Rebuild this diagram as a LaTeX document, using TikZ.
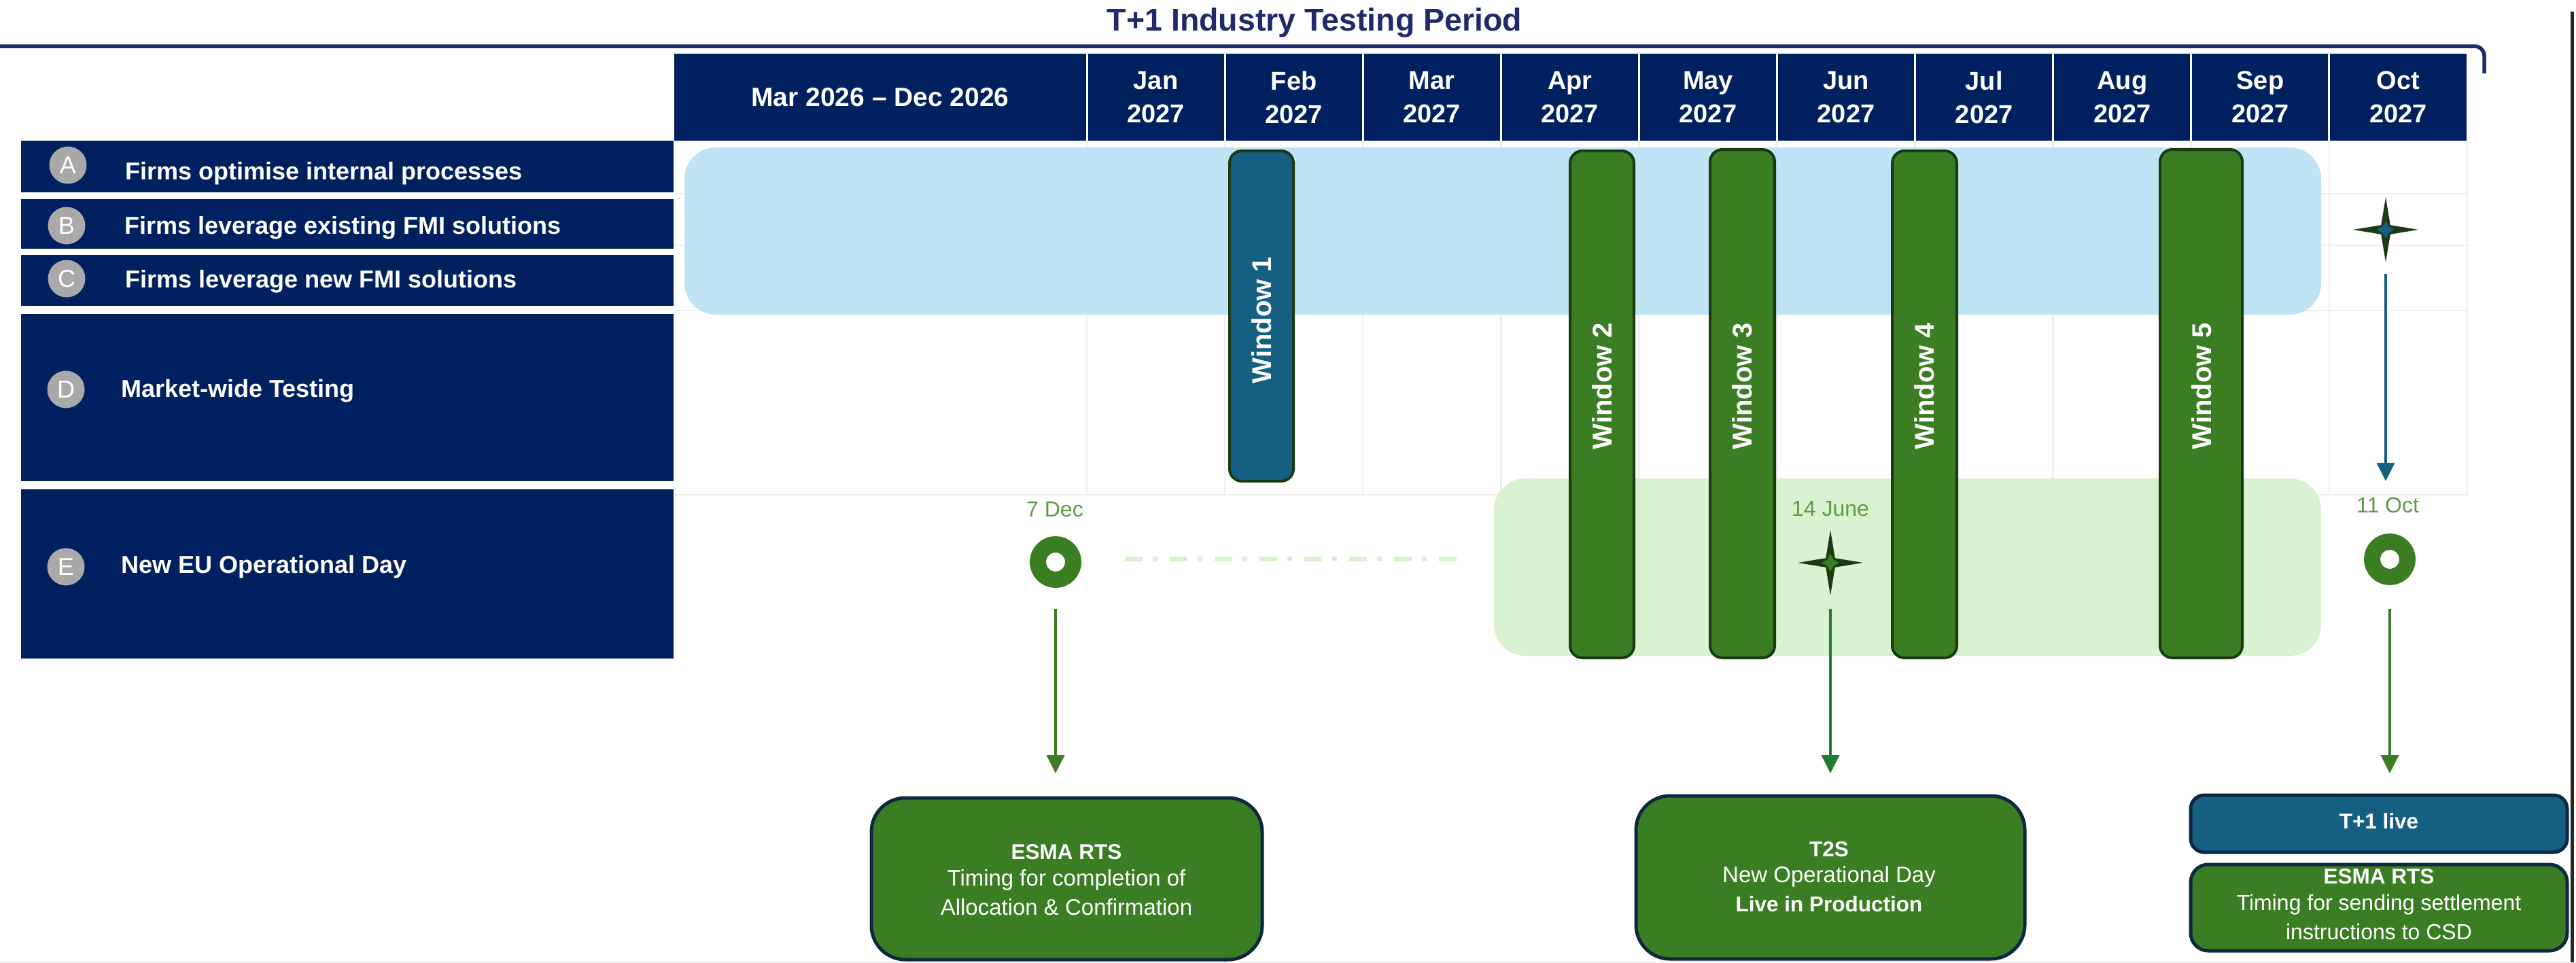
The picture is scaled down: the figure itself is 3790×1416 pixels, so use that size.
\documentclass[tikz,border=0pt]{standalone}
\usepackage{fontspec}
\setmainfont{Liberation Sans}
\usetikzlibrary{arrows.meta,shapes.geometric}
\definecolor{navy}{HTML}{002060}
\definecolor{titlenavy}{HTML}{1F2A6B}
\definecolor{skyband}{HTML}{C0E4F5}
\definecolor{mintband}{HTML}{D9F2D0}
\definecolor{leaf}{HTML}{3B7D23}
\definecolor{june}{HTML}{1E7B34}
\definecolor{teal}{HTML}{156082}
\definecolor{darkleaf}{HTML}{1B3A12}
\definecolor{boxedge}{HTML}{0E2841}
\definecolor{gridgrey}{HTML}{F0F0F0}
\definecolor{badge}{HTML}{A9A9A9}
\definecolor{datetext}{HTML}{5E9A4A}
\newcommand{\fs}[1]{\fontsize{#1}{#1}\selectfont}
\tikzset{
  block/.style={rectangle,anchor=north west,inner sep=0pt,outer sep=0pt},
  navybar/.style={block,fill=navy},
  headcell/.style={block,fill=navy,text=white,align=center,font=\fontsize{38}{49}\selectfont\bfseries},
  rowtext/.style={anchor=west,text=white,inner sep=0pt,font=\fs{36}\bfseries},
  badgedot/.style={circle,fill=badge,text=white,inner sep=0pt,minimum size=55pt,font=\fs{36}},
  band/.style={block,rounded corners=46pt},
  windowbar/.style={block,rounded corners=18pt,fill=leaf,draw=darkleaf,line width=4pt},
  windowtext/.style={rotate=90,text=white,inner sep=0pt,font=\fs{40}\bfseries},
  gridline/.style={gridgrey,line width=2.5pt},
  donut/.style={circle,draw=leaf,line width=24pt,fill=white,minimum size=52pt,inner sep=0pt,outer sep=0pt},
  sparkle/.style={star,star points=4,star point ratio=5,minimum size=96pt,inner sep=0pt,outer sep=0pt,fill=darkleaf},
  sparklecore/.style={star,star points=4,star point ratio=2,minimum size=26pt,inner sep=0pt,outer sep=0pt},
  datelabel/.style={text=datetext,inner sep=0pt,font=\fs{32}},
  flow/.style={line width=4pt,-{Triangle[length=27pt,width=26pt]}},
  notebox/.style={block,draw=boxedge,line width=5pt,text=white,align=center},
  notetext/.style={text=white,inner sep=0pt,font=\fs{33}},
  notehead/.style={text=white,inner sep=0pt,font=\fs{31.5}\bfseries}
}
\begin{document}
\begin{tikzpicture}[x=1pt,y=-1pt]
\useasboundingbox (0,0) rectangle (3790,1416);
% grid
\foreach \i in {0,...,10} {\pgfmathsetmacro{\gx}{1599+203.1*\i}
  \draw[gridline] (\gx,207) -- (\gx,728);}
\foreach \gy in {285,361,457,728} {\draw[gridline] (992,\gy) -- (3632,\gy);}
\draw[gridline] (0,1415) -- (3782,1415);
% bracket and title
\coordinate (bracketL) at (0,68);
\coordinate (bracketC) at (3655,68);
\coordinate (bracketE) at (3655,108);
\draw[titlenavy,line width=5.5pt,rounded corners=14pt] (bracketL) -- (bracketC) -- (bracketE);
\node[text=titlenavy,inner sep=0pt,font=\fs{46.5}\bfseries] (title) at (1934,34) {T+1 Industry Testing Period};
\coordinate (edgeT) at (3784,17);
\coordinate (edgeB) at (3784,1416);
\draw[black!85,line width=5pt] (edgeT) -- (edgeB);
% header
\node[headcell,minimum width=606pt,minimum height=128pt] (head0) at (992,79) {\fs{39}\bfseries Mar 2026 – Dec 2026};
\foreach \i/\m in {0/Jan,1/Feb,2/Mar,3/Apr,4/May,5/Jun,6/Jul,7/Aug,8/Sep,9/Oct} {
  \pgfmathsetmacro{\hx}{1600.5+203.1*\i}
  \node[headcell,minimum width=200.1pt,minimum height=128pt] (month\i) at (\hx,79) {\m\\[0pt]2027};
}
% left rows
\node[navybar,minimum width=960pt,minimum height=76pt] (rowA) at (31,207) {};
\node[navybar,minimum width=960pt,minimum height=73pt] (rowB) at (31,293) {};
\node[navybar,minimum width=960pt,minimum height=75pt] (rowC) at (31,375) {};
\node[navybar,minimum width=960pt,minimum height=246pt] (rowD) at (31,462) {};
\node[navybar,minimum width=960pt,minimum height=249pt] (rowE) at (31,720) {};
\node[badgedot] (dotA) at (100,243) {A};
\node[badgedot] (dotB) at (98,332) {B};
\node[badgedot] (dotC) at (98,410) {C};
\node[badgedot] (dotD) at (97,573) {D};
\node[badgedot] (dotE) at (97,834) {E};
\node[rowtext] (txtA) at (184,255) {Firms optimise internal processes};
\node[rowtext] (txtB) at (183,335) {Firms leverage existing FMI solutions};
\node[rowtext] (txtC) at (184,414) {Firms leverage new FMI solutions};
\node[rowtext] (txtD) at (178,575) {Market-wide Testing};
\node[rowtext] (txtE) at (178,834) {New EU Operational Day};
% bands
\node[band,fill=skyband,minimum width=2408pt,minimum height=246pt] (bandBlue) at (1007,217) {};
\node[band,fill=mintband,minimum width=1217pt,minimum height=261pt] (bandGreen) at (2198,704) {};
\coordinate (dashL) at (1655,822);
\coordinate (dashR) at (2144,822);
\draw[mintband,line width=7pt,dash pattern=on 26pt off 15pt on 7pt off 18pt] (dashL) -- (dashR);
% windows
\node[windowbar,fill=teal,minimum width=94pt,minimum height=486pt] (win1) at (1809,222) {};
\node[windowbar,minimum width=94pt,minimum height=746pt] (win2) at (2310,222) {};
\node[windowbar,minimum width=95pt,minimum height=748pt] (win3) at (2516,220) {};
\node[windowbar,minimum width=95pt,minimum height=746pt] (win4) at (2784,222) {};
\node[windowbar,minimum width=121pt,minimum height=748pt] (win5) at (3178,220) {};
\node[windowtext] (wt1) at (1856,471) {Window 1};
\node[windowtext] (wt2) at (2357,568) {Window 2};
\node[windowtext] (wt3) at (2563,568) {Window 3};
\node[windowtext] (wt4) at (2831,568) {Window 4};
\node[windowtext] (wt5) at (3239,568) {Window 5};
% milestones
\node[datelabel] (d1) at (1552,750) {7 Dec};
\node[datelabel] (d2) at (2693,749) {14 June};
\node[datelabel] (d3) at (3513,743) {11 Oct};
\node[donut] (dec7) at (1553,827) {};
\node[donut] (oct11) at (3516,823) {};
\node[sparkle] (june14) at (2693,828) {};
\node[sparklecore,fill=leaf] (june14core) at (june14) {};
\node[sparkle] (octstar) at (3510,338) {};
\node[sparklecore,fill=teal] (octcore) at (octstar) {};
% note boxes
\node[notebox,fill=leaf,minimum width=575pt,minimum height=238pt,rounded corners=50pt] (esma1) at (1282,1174) {};
\node[notebox,fill=leaf,minimum width=572pt,minimum height=240pt,rounded corners=50pt] (t2s) at (2407,1171) {};
\node[notebox,fill=teal,minimum width=554pt,minimum height=84pt,rounded corners=20pt] (live) at (3223,1170) {};
\node[notebox,fill=leaf,minimum width=554pt,minimum height=127pt,rounded corners=26pt] (esma2) at (3223,1272) {};
\node[notehead] (e1a) at (1569,1254) {ESMA RTS};
\node[notetext] (e1b) at (1569,1295) {Timing for completion of};
\node[notetext] (e1c) at (1569,1335) {Allocation \& Confirmation};
\node[notehead] (t1a) at (2691,1250) {T2S};
\node[notetext] (t1b) at (2691,1290) {New Operational Day};
\node[notehead] (t1c) at (2691,1330) {Live in Production};
\node[notehead] (l1) at (3500,1208) {T+1 live};
\node[notehead] (e2a) at (3500,1290) {ESMA RTS};
\node[notetext,font=\fs{32}] (e2b) at (3500,1331) {Timing for sending settlement};
\node[notetext,font=\fs{32}] (e2c) at (3500,1371) {instructions to CSD};
% connectors
\draw[flow,leaf,shorten <=69pt,shorten >=36pt] (dec7.center) -- (dec7.center |- esma1.north);
\draw[flow,june,shorten <=68pt,shorten >=33pt] (june14.center) -- (june14.center |- t2s.north);
\draw[flow,leaf,shorten <=73pt,shorten >=32pt] (oct11.center) -- (oct11.center |- live.north);
\coordinate (octtip) at (3510,708);
\draw[flow,teal,shorten <=65pt] (octstar.center) -- (octstar.center |- octtip);
\end{tikzpicture}
\end{document}
